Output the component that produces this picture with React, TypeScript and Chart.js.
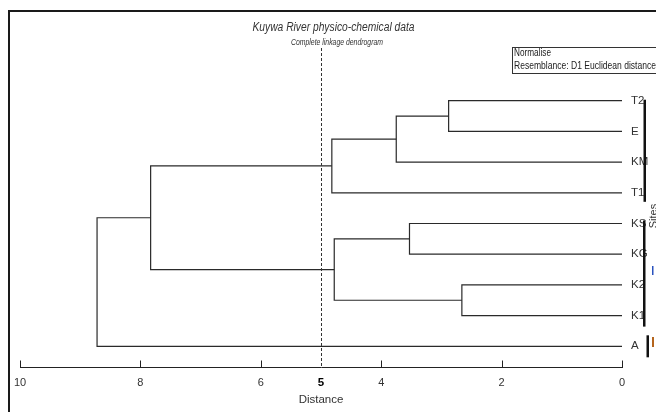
import React, { useEffect, useRef } from "react";
import { Chart, registerables } from "chart.js";
Chart.register(...registerables);

// Leaves, top to bottom
const LEAVES = ["T2", "E", "KM", "T1", "KS", "KG", "K2", "K1", "A"];
// Merge steps: child A, child B ("#i" = result of merge i), linkage distance
const MERGE_A = ["T2", "#0", "#1", "KS", "K2", "#3", "#2", "#6"];
const MERGE_B = ["E", "KM", "T1", "KG", "K1", "#4", "#5", "A"];
const MERGE_HEIGHT = [2.88, 3.75, 4.82, 3.53, 2.66, 4.78, 7.83, 8.72];
const X_TICKS = [10, 8, 6, 5, 4, 2, 0];
const CUTOFF = 5;
const TITLE = "Kuywa River physico-chemical data";
const SUBTITLE = "Complete linkage dendrogram";
const NOTE_LINES = ["Normalise", "Resemblance: D1 Euclidean distance"];
const X_TITLE = "Distance";
const GROUP_LABEL = "Sites";

const FONT = "'Liberation Sans', Arial, sans-serif";
const INK = "#2a2a2a";

function buildSegments() {
  const nodes: { h: number; y: number }[] = [];
  const pos = (key: string) => {
    if (key.startsWith("#")) return nodes[parseInt(key.slice(1), 10)];
    return { h: 0, y: LEAVES.indexOf(key) };
  };
  const sets: { x: number; y: number }[][] = [];
  for (let i = 0; i < MERGE_HEIGHT.length; i++) {
    const a = pos(MERGE_A[i]);
    const b = pos(MERGE_B[i]);
    const h = MERGE_HEIGHT[i];
    sets.push([
      { x: a.h, y: a.y },
      { x: h, y: a.y },
      { x: h, y: b.y },
      { x: b.h, y: b.y },
    ]);
    nodes.push({ h, y: (a.y + b.y) / 2 });
  }
  return sets;
}

// draw text squeezed horizontally to a given width (the original uses a narrow face)
function narrowText(ctx: any, text: string, x: number, y: number, width: number, align: "left" | "center") {
  const w = ctx.measureText(text).width;
  const k = Math.min(1, width / w);
  ctx.save();
  ctx.translate(x, y);
  ctx.scale(k, 1);
  ctx.textAlign = align;
  ctx.fillText(text, 0, 0);
  ctx.restore();
}

const decor = {
  id: "decor",
  beforeDraw(chart: any) {
    const { ctx, width, height } = chart;
    ctx.save();
    ctx.fillStyle = "#ffffff";
    ctx.fillRect(0, 0, width, height);
    ctx.strokeStyle = "#1a1a1a";
    ctx.lineWidth = 2;
    ctx.beginPath();
    ctx.moveTo(9, height);
    ctx.lineTo(9, 11);
    ctx.lineTo(width, 11);
    ctx.stroke();
    // titles
    ctx.fillStyle = "#333";
    ctx.textBaseline = "alphabetic";
    ctx.font = "italic 12.5px " + FONT;
    narrowText(ctx, TITLE, 333.5, 30.5, 162, "center");
    ctx.font = "italic 9.5px " + FONT;
    narrowText(ctx, SUBTITLE, 337, 45, 92, "center");
    ctx.restore();
  },
  afterDraw(chart: any) {
    const { ctx, chartArea } = chart;
    const xs = chart.scales.x;
    const ys = chart.scales.y;
    ctx.save();
    // cut-off dashed line
    const cx = Math.round(xs.getPixelForValue(CUTOFF)) + 0.5;
    ctx.strokeStyle = "#333";
    ctx.lineWidth = 1;
    ctx.setLineDash([3, 2]);
    ctx.beginPath();
    ctx.moveTo(cx, chartArea.top);
    ctx.lineTo(cx, chartArea.bottom);
    ctx.stroke();
    ctx.setLineDash([]);
    // axis tick marks (upward)
    const by = Math.round(chartArea.bottom) + 0.5;
    ctx.strokeStyle = "#222";
    ctx.beginPath();
    X_TICKS.forEach((v) => {
      if (v === CUTOFF) return;
      const px = Math.round(xs.getPixelForValue(v)) + 0.5;
      ctx.moveTo(px, by);
      ctx.lineTo(px, by - 7);
    });
    ctx.stroke();
    // note box
    ctx.fillStyle = "#fff";
    ctx.fillRect(512, 47, 160, 27);
    ctx.strokeStyle = "#333";
    ctx.lineWidth = 1;
    ctx.strokeRect(512.5, 47.5, 160, 26);
    ctx.fillStyle = "#222";
    ctx.font = "11px " + FONT;
    ctx.textBaseline = "middle";
    narrowText(ctx, NOTE_LINES[0], 514, 53, 37, "left");
    narrowText(ctx, NOTE_LINES[1], 514, 66, 142, "left");
    // group bars on the right
    const yp = (v: number) => ys.getPixelForValue(v);
    ctx.fillStyle = "#111";
    ctx.fillRect(643.5, yp(0) - 1, 2.5, yp(3) - yp(0) + 10);
    ctx.fillRect(643, yp(4) - 3, 2.5, yp(7) - yp(4) + 14);
    ctx.fillRect(646.5, yp(8) - 11, 2.5, 22);
    ctx.fillStyle = "#2a52be";
    ctx.fillRect(652, 266, 1.5, 9);
    ctx.fillStyle = "#b5651d";
    ctx.fillRect(652, 337, 2, 10);
    // rotated group label
    ctx.translate(656.5, 216);
    ctx.rotate(-Math.PI / 2);
    ctx.fillStyle = "#333";
    ctx.font = "11px " + FONT;
    ctx.textAlign = "center";
    ctx.textBaseline = "alphabetic";
    ctx.fillText(GROUP_LABEL, 0, 0);
    ctx.restore();
  },
};

export default function App() {
  const ref = useRef<HTMLCanvasElement | null>(null);
  useEffect(() => {
    if (!ref.current) return;
    const segs = buildSegments();
    const chart = new Chart(ref.current, {
      type: "scatter",
      data: {
        datasets: segs.map((s) => ({
          data: s,
          showLine: true,
          borderColor: INK,
          borderWidth: 1.2,
          pointRadius: 0,
          fill: false,
        })),
      },
      options: {
        responsive: false,
        animation: false,
        layout: { padding: { left: 20, right: 0, top: 48, bottom: 0 } },
        plugins: {
          legend: { display: false },
          tooltip: { enabled: false },
          title: { display: false },
        },
        scales: {
          x: {
            type: "linear",
            reverse: true,
            min: 0,
            max: 10,
            afterBuildTicks: (s: any) => {
              s.ticks = X_TICKS.map((v) => ({ value: v }));
            },
            afterFit: (s: any) => {
              s.height = 45;
            },
            grid: { display: false, drawTicks: false },
            border: { display: true, color: "#222", width: 1 },
            ticks: {
              padding: 9,
              maxRotation: 0,
              autoSkip: false,
              font: (c: any) =>
                c.tick && c.tick.value === CUTOFF
                  ? { family: FONT, size: 11.5, weight: "bold" }
                  : { family: FONT, size: 11, weight: "normal" },
              color: (c: any) => (c.tick && c.tick.value === CUTOFF ? "#000" : "#333"),
            },
            title: {
              display: true,
              text: X_TITLE,
              color: "#333",
              font: { family: FONT, size: 11.5 },
              padding: { top: 0, bottom: 5 },
            },
          },
          y: {
            type: "linear",
            position: "right",
            reverse: true,
            min: -1.717,
            max: 8.674,
            afterBuildTicks: (s: any) => {
              s.ticks = LEAVES.map((_, i) => ({ value: i }));
            },
            afterFit: (s: any) => {
              s.width = 34;
            },
            grid: { display: false, drawTicks: false },
            border: { display: false },
            ticks: {
              padding: 9,
              color: "#333",
              autoSkip: false,
              font: { family: FONT, size: 11.5 },
              callback: (v: any) => LEAVES[v as number] ?? "",
            },
          },
        },
      },
      plugins: [decor],
    });
    return () => chart.destroy();
  }, []);
  return (
    <div style={{ position: "fixed", left: 0, top: 0, width: 656, height: 412, background: "#fff" }}>
      <canvas ref={ref} width={656} height={412} style={{ display: "block" }} />
    </div>
  );
}
